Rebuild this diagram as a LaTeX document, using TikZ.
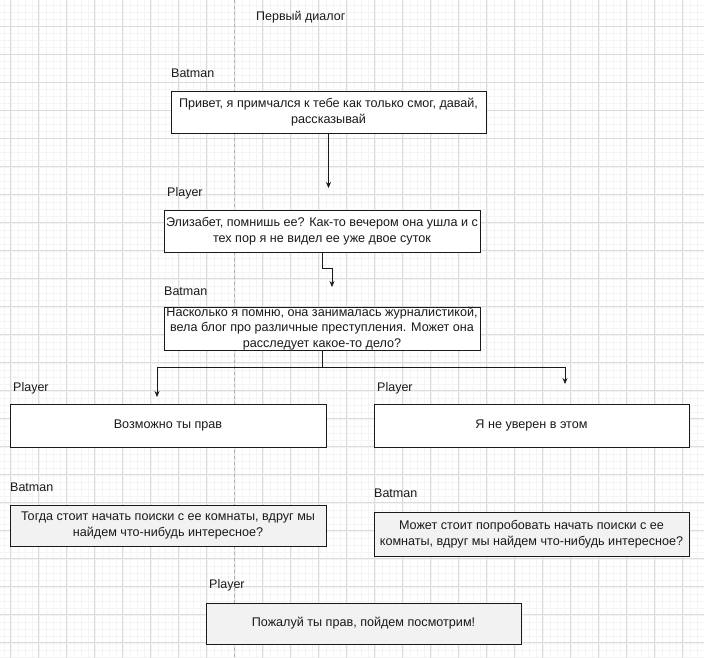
\documentclass[tikz,border=0pt]{standalone}
\usepackage{fontspec}
\setmainfont{Liberation Sans}
\usetikzlibrary{arrows.meta}
\definecolor{gridmajor}{HTML}{DCDCDC}
\definecolor{gridminor}{HTML}{F4F4F4}
\definecolor{ink}{HTML}{1A1A1A}
\definecolor{lowfill}{HTML}{F2F2F2}
\begin{document}
\begin{tikzpicture}[x=1pt,y=-1pt,
  txt/.style={font=\fontsize{12.6}{15.5}\selectfont, text=ink},
  box/.style={txt, draw=ink, line width=0.8pt, fill=white, align=center, inner sep=0pt},
  lowbox/.style={box, fill=lowfill},
  who/.style={font=\fontsize{12.5}{15}\selectfont, text=ink, anchor=west, inner sep=0pt},
  link/.style={draw=ink, line width=0.7pt, -{Stealth[length=6pt,width=5pt]}},
]
\useasboundingbox (0,0) rectangle (704,658);
\fill[white] (0,0) rectangle (704,658);
% grid
\foreach \k in {0,...,100} \draw[gridminor, line width=0.4pt] ({3.7+7*\k},0) -- ({3.7+7*\k},658);
\foreach \k in {0,...,94} \draw[gridminor, line width=0.4pt] (0,{5.7+7*\k}) -- (704,{5.7+7*\k});
\foreach \k in {0,...,24} \draw[gridmajor, line width=0.6pt] ({10.7+28*\k},0) -- ({10.7+28*\k},658);
\foreach \k in {0,...,22} \draw[gridmajor, line width=0.6pt] (0,{26.7+28*\k}) -- (704,{26.7+28*\k});
% page break
\draw[gray!60, dashed, line width=0.6pt] (234.5,0) -- (234.5,658);

% title
\node[who] (title) at (256,17.5) {Первый диалог};

% boxes
\node[box, minimum width=315pt, minimum height=42pt] (A) at (328.5,112) {Привет, я примчался к тебе как только смог, давай,\\ рассказывай};
\node[who] (lA) at (171,73) {Batman};

\node[box, minimum width=316pt, minimum height=42pt] (B) at (322,231) {Элизабет, помнишь ее? Как-то вечером она ушла и с\\ тех пор я не видел ее уже двое суток};
\node[who] (lB) at (167,193) {Player};

\node[box, minimum width=316pt, minimum height=43pt] (C) at (322,328.5) {Насколько я помню, она занималась журналистикой,\\ вела блог про различные преступления. Может она\\ расследует какое-то дело?};
\node[who] (lC) at (164,291) {Batman};

\node[box, minimum width=316pt, minimum height=43pt] (D) at (168,425.5) {Возможно ты прав};
\node[who] (lD) at (13,388) {Player};

\node[box, minimum width=315pt, minimum height=43pt] (E) at (531.5,425.5) {Я не уверен в этом};
\node[who] (lE) at (377,388) {Player};

\node[lowbox, minimum width=316pt, minimum height=41pt] (F) at (168,525.5) {Тогда стоит начать поиски с ее комнаты, вдруг мы\\ найдем что-нибудь интересное?};
\node[who] (lF) at (10,487) {Batman};

\node[lowbox, minimum width=315pt, minimum height=44pt] (G) at (531.5,534) {Может стоит попробовать начать поиски с ее\\ комнаты, вдруг мы найдем что-нибудь интересное?};
\node[who] (lG) at (374,493) {Batman};

\node[lowbox, minimum width=315pt, minimum height=41pt] (H) at (363.5,623.5) {Пожалуй ты прав, пойдем посмотрим!};
\node[who] (lH) at (209,585) {Player};

% connectors
\coordinate (ab) at (328.5,188);
\coordinate (bc) at (332,287);
\coordinate (cd) at (157,397);
\coordinate (ce) at (565,384);
\draw[link] (A.south) -- (ab);
\draw[link] (B.south) -- ++(0,16) -| (bc);
\draw[link] (C.south) -- ++(0,17) -| (cd);
\draw[link] (C.south) -- ++(0,17) -| (ce);
\end{tikzpicture}
\end{document}
